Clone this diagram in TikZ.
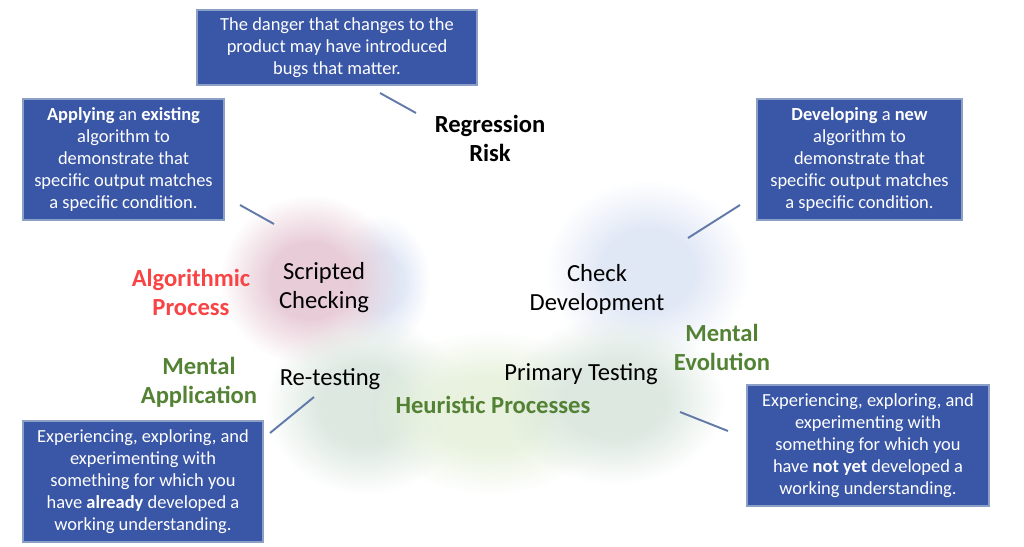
\documentclass[tikz,border=0pt]{standalone}
\usepackage{fontspec}
\setmainfont{Carlito}
\usetikzlibrary{positioning, fadings}
\definecolor{boxblue}{RGB}{58,86,166}
\definecolor{boxedge}{RGB}{140,160,198}
\definecolor{leadblue}{RGB}{98,122,170}
\definecolor{mentalgreen}{RGB}{84,130,53}
\definecolor{algored}{RGB}{248,68,68}
\definecolor{blobpink}{RGB}{232,204,215}
\definecolor{blobblue}{RGB}{224,231,245}
\definecolor{blobgrey}{RGB}{220,232,224}
\definecolor{blobgreen}{RGB}{232,242,222}
\pgfdeclareradialshading{blurshade}{\pgfpointorigin}{color(0bp)=(pgftransparent!0); color(11bp)=(pgftransparent!0); color(25bp)=(pgftransparent!100); color(50bp)=(pgftransparent!100)}
\pgfdeclarefading{blur}{\pgfuseshading{blurshade}}
\newcommand{\leader}[2]
{
	\draw[lead] (#1) -- (#2)
}

\begin{document}
\begin{tikzpicture}[x=0.02cm, y=-0.02cm,
			info/.style={draw=boxedge,
				fill=boxblue,
				text=white,
				line width=0.8pt,
				align=center,
				inner sep=0,
			font=\fontsize{10.5}{12.5}\selectfont},
			phase/.style={align=center, font=\fontsize{14}{16.5}\selectfont},
			mode/.style={align=center, font=\fontsize{14}{16.5}\selectfont\bfseries},
			lead/.style={draw=leadblue, line width=1.1pt}]
			
			\useasboundingbox (0,0) rectangle (1024,547);
			
			% blurred background
			\fill[blobblue, path fading=blur] (330,215) rectangle (430,350);
			\fill[blobpink, path fading=blur] (220,195) rectangle (400,365);
			\fill[blobblue, path fading=blur] (545,180) rectangle (750,360);
			\fill[blobgrey, path fading=blur] (265,315) rectangle (465,495);
			\fill[blobgreen, path fading=blur] (370,330) rectangle (610,495);
			\fill[blobgrey, path fading=blur] (505,315) rectangle (725,485);
			
			\node[info, minimum width=5.6cm, minimum height=1.5cm] at (337, 47.5) (Risk){The danger that changes to the\\product may have introduced\\bugs that matter.};
			\node[info, minimum width=4.02cm, minimum height=2.42cm] at (123.5, 159.5) (Apply){\textbf{Applying} an \textbf{existing}\\algorithm to\\demonstrate that\\specific output matches\\a specific condition.};
			\node[info, minimum width=4.1cm, minimum height=2.42cm] at (859.5, 159.5) (Develop){\textbf{Developing} a \textbf{new}\\algorithm to\\demonstrate that\\specific output matches\\a specific condition.};
			\node[info, minimum width=4.8cm, minimum height=2.42cm] at (143, 481.5) (Already){Experiencing, exploring, and\\experimenting with\\something for which you\\have \textbf{already} developed a\\working understanding.};
			\node[info, minimum width=4.84cm, minimum height=2.42cm] at (868, 445.5) (NotYet){Experiencing, exploring, and\\experimenting with\\something for which you\\have \textbf{not yet} developed a\\working understanding.};
			
			\node[mode] at (490, 138) (Regr){Regression\\Risk};
			\node[mode, text=algored] at (191, 292.5) (Algo){Algorithmic\\Process};
			\node[mode, text=mentalgreen] at (199, 382.5) (MApp){Mental\\Application};
			\node[mode, text=mentalgreen] at (722, 347.5) (MEvo){Mental\\Evolution};
			\node[mode, text=mentalgreen] at (493, 405) (Heur){Heuristic Processes};
			
			\node[phase] at (324, 288) (Script){Scripted\\Checking};
			\node[phase] at (597, 289) (CheckDev){Check\\Development};
			\node[phase] at (330, 379) (Retest){Re-testing};
			\node[phase] at (581, 374) (Primary){Primary Testing};
			
			\coordinate (riskA) at (380, 93);
			\coordinate (riskB) at (416, 113);
			\coordinate (applyA) at (240, 205);
			\coordinate (applyB) at (274, 224);
			\coordinate (devA) at (740, 205);
			\coordinate (devB) at (688, 238);
			\coordinate (readyA) at (314, 397);
			\coordinate (readyB) at (270, 433);
			\coordinate (yetA) at (680, 412);
			\coordinate (yetB) at (728, 431);
			
			\leader{riskA}{riskB};
			\leader{applyA}{applyB};
			\leader{devA}{devB};
			\leader{readyA}{readyB};
			\leader{yetA}{yetB};
		\end{tikzpicture}
\end{document}
